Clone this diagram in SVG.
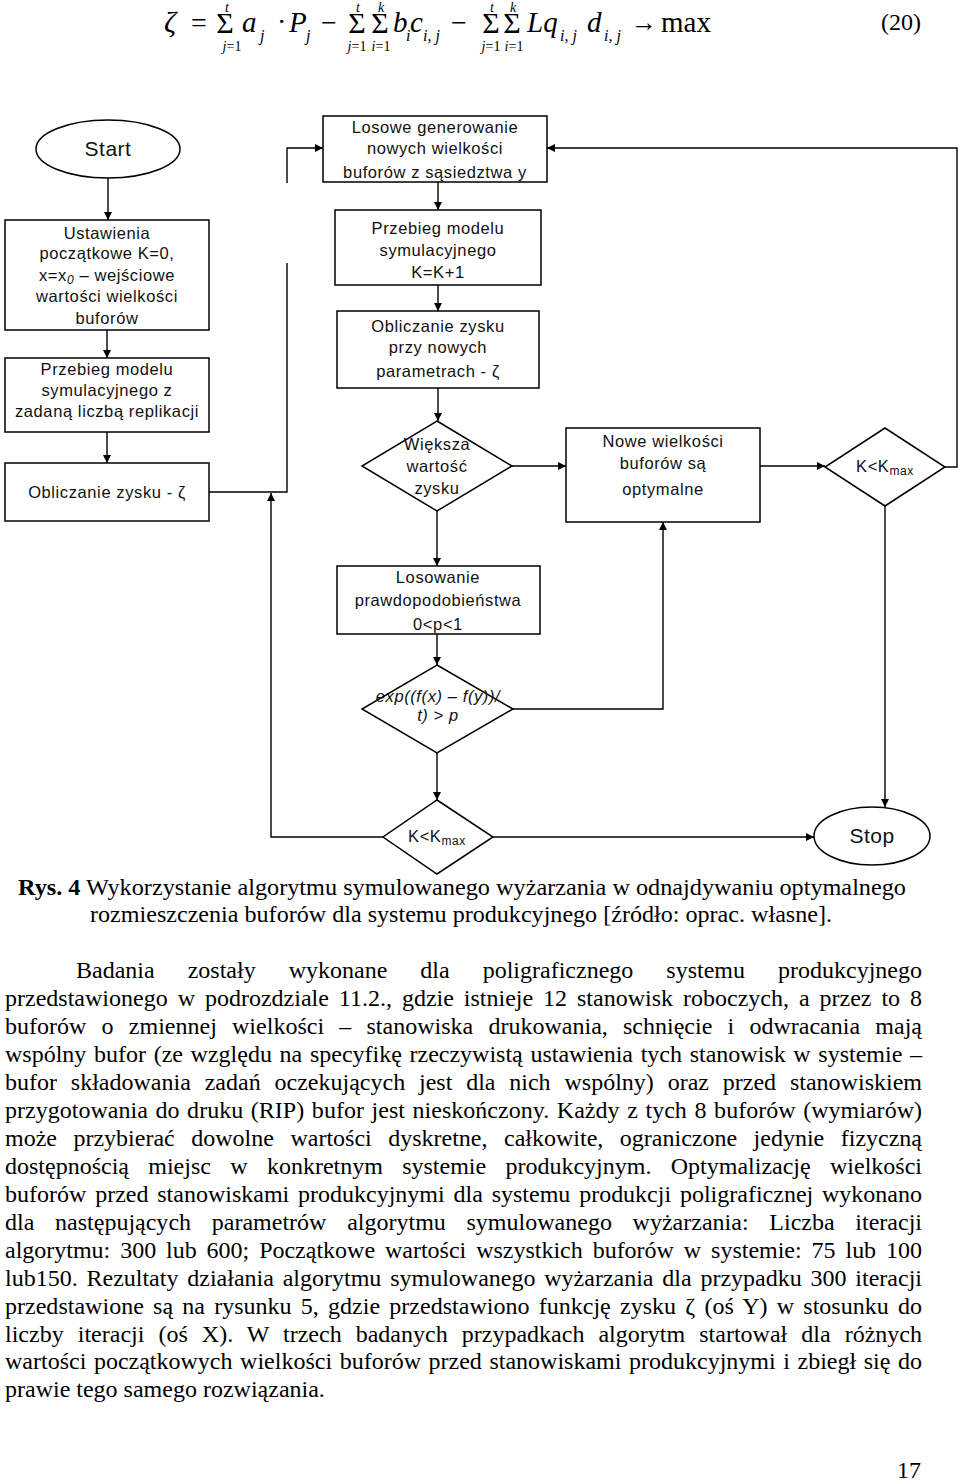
<svg xmlns="http://www.w3.org/2000/svg" width="960" height="1481" viewBox="0 0 960 1481">
<style>
.bx{fill:#fff;stroke:#000;stroke-width:1.5}
.ft{font-family:"Liberation Sans",Arial,sans-serif;font-size:16.5px;letter-spacing:0.6px;text-anchor:middle;fill:#111}
.big{font-size:21px;letter-spacing:0.5px}
.cn{fill:none;stroke:#000;stroke-width:1.4}
.ser{font-family:"Liberation Serif","Times New Roman",serif;fill:#000}
.it{font-style:italic}
.body{font-family:"Liberation Serif","Times New Roman",serif;font-size:24px;fill:#000}
</style>
<defs>
<marker id="ar" viewBox="0 0 10 10" refX="10" refY="5" markerWidth="10" markerHeight="8" markerUnits="userSpaceOnUse" orient="auto">
<path d="M0,0 L10,5 L0,10 z" fill="#000"/>
</marker>
</defs>
<rect width="960" height="1481" fill="#fff"/>

<g id="formula" class="ser">
<text x="164" y="32" font-size="30" class="it">ζ</text>
<text x="191" y="32" font-size="28">=</text>
<text x="225" y="33" font-size="30" text-anchor="middle">Σ</text>
<text x="227" y="12" font-size="14" class="it" text-anchor="middle">t</text>
<text x="232" y="51" font-size="14" text-anchor="middle"><tspan class="it">j</tspan>=1</text>
<text x="242" y="32" font-size="29" class="it">a</text>
<text x="260" y="41" font-size="16" class="it">j</text>
<text x="277" y="31" font-size="28">·</text>
<text x="289" y="32" font-size="29" class="it">P</text>
<text x="306" y="41" font-size="16" class="it">j</text>
<text x="321" y="32" font-size="28">−</text>
<text x="357" y="33" font-size="30" text-anchor="middle">Σ</text>
<text x="380" y="33" font-size="30" text-anchor="middle">Σ</text>
<text x="358" y="12" font-size="14" class="it" text-anchor="middle">t</text>
<text x="381" y="12" font-size="14" class="it" text-anchor="middle">k</text>
<text x="357" y="51" font-size="14" text-anchor="middle"><tspan class="it">j</tspan>=1</text>
<text x="381" y="51" font-size="14" text-anchor="middle"><tspan class="it">i</tspan>=1</text>
<text x="393" y="32" font-size="29" class="it">b</text>
<text x="406" y="41" font-size="16" class="it">i</text>
<text x="410" y="32" font-size="29" class="it">c</text>
<text x="423" y="41" font-size="16" class="it">i, j</text>
<text x="451" y="32" font-size="28">−</text>
<text x="491" y="33" font-size="30" text-anchor="middle">Σ</text>
<text x="512" y="33" font-size="30" text-anchor="middle">Σ</text>
<text x="492" y="12" font-size="14" class="it" text-anchor="middle">t</text>
<text x="513" y="12" font-size="14" class="it" text-anchor="middle">k</text>
<text x="491" y="51" font-size="14" text-anchor="middle"><tspan class="it">j</tspan>=1</text>
<text x="514" y="51" font-size="14" text-anchor="middle"><tspan class="it">i</tspan>=1</text>
<text x="527" y="32" font-size="29" class="it">Lq</text>
<text x="560" y="41" font-size="16" class="it">i, j</text>
<text x="587" y="32" font-size="29" class="it">d</text>
<text x="604" y="41" font-size="16" class="it">i, j</text>
<text x="631" y="31" font-size="26">→</text>
<text x="661" y="32" font-size="29">max</text>
<text x="881" y="30" font-size="24">(20)</text>
</g>

<g id="connectors">
<path class="cn" d="M108,178 V220" marker-end="url(#ar)"/>
<path class="cn" d="M107,330 V358" marker-end="url(#ar)"/>
<path class="cn" d="M107,432 V463" marker-end="url(#ar)"/>
<path class="cn" d="M209,492 H287 V263"/>
<path class="cn" d="M287,183 V148 H323" marker-end="url(#ar)"/>
<path class="cn" d="M438,182 V210" marker-end="url(#ar)"/>
<path class="cn" d="M438,285 V311" marker-end="url(#ar)"/>
<path class="cn" d="M438,388 V421" marker-end="url(#ar)"/>
<path class="cn" d="M512,466 H566" marker-end="url(#ar)"/>
<path class="cn" d="M760,466 H825" marker-end="url(#ar)"/>
<path class="cn" d="M945,467 H957 V148 H547" marker-end="url(#ar)"/>
<path class="cn" d="M885,506 V807" marker-end="url(#ar)"/>
<path class="cn" d="M437,511 V566" marker-end="url(#ar)"/>
<path class="cn" d="M437,634 V665" marker-end="url(#ar)"/>
<path class="cn" d="M513,709 H663 V522" marker-end="url(#ar)"/>
<path class="cn" d="M437,753 V800" marker-end="url(#ar)"/>
<path class="cn" d="M493,837 H814" marker-end="url(#ar)"/>
<path class="cn" d="M383,837 H271 V493" marker-end="url(#ar)"/>
</g>

<g id="start">
<ellipse class="bx" cx="108" cy="149" rx="72" ry="29"/>
<text class="ft big" x="108" y="156">Start</text>
</g>

<g id="ustawienia">
<rect class="bx" x="5" y="220" width="204" height="110"/>
<text class="ft" x="107" y="239">Ustawienia</text>
<text class="ft" x="107" y="259">początkowe K=0,</text>
<text class="ft" x="107" y="281">x=x<tspan font-size="12" dy="3" font-style="italic">0</tspan><tspan dy="-3"> – wejściowe</tspan></text>
<text class="ft" x="107" y="302">wartości wielkości</text>
<text class="ft" x="107" y="324">buforów</text>
</g>

<g id="przebieg1">
<rect class="bx" x="5" y="358" width="204" height="74"/>
<text class="ft" x="107" y="375">Przebieg modelu</text>
<text class="ft" x="107" y="396">symulacyjnego z</text>
<text class="ft" x="107" y="417">zadaną liczbą replikacji</text>
</g>

<g id="obliczanie1">
<rect class="bx" x="5" y="463" width="204" height="58"/>
<text class="ft" x="107" y="498">Obliczanie zysku - ζ</text>
</g>

<g id="losowe">
<rect class="bx" x="323" y="116" width="224" height="66"/>
<text class="ft" x="435" y="133">Losowe generowanie</text>
<text class="ft" x="435" y="154">nowych wielkości</text>
<text class="ft" x="435" y="178">buforów z sąsiedztwa y</text>
</g>

<g id="przebieg2">
<rect class="bx" x="335" y="210" width="206" height="75"/>
<text class="ft" x="438" y="234">Przebieg modelu</text>
<text class="ft" x="438" y="256">symulacyjnego</text>
<text class="ft" x="438" y="278">K=K+1</text>
</g>

<g id="obliczanie2">
<rect class="bx" x="337" y="311" width="202" height="77"/>
<text class="ft" x="438" y="332">Obliczanie zysku</text>
<text class="ft" x="438" y="353">przy nowych</text>
<text class="ft" x="438" y="377">parametrach - ζ</text>
</g>

<g id="wieksza">
<polygon class="bx" points="437,421 512,466 437,511 362,466"/>
<text class="ft" x="437" y="450">Większa</text>
<text class="ft" x="437" y="472">wartość</text>
<text class="ft" x="437" y="494">zysku</text>
</g>

<g id="nowe">
<rect class="bx" x="566" y="428" width="194" height="94"/>
<text class="ft" x="663" y="447">Nowe wielkości</text>
<text class="ft" x="663" y="469">buforów są</text>
<text class="ft" x="663" y="495">optymalne</text>
</g>

<g id="kmax1">
<polygon class="bx" points="885,428 945,467 885,506 825,467"/>
<text class="ft" x="885" y="472">K&lt;K<tspan font-size="12" dy="3">max</tspan></text>
</g>

<g id="losowanie">
<rect class="bx" x="337" y="566" width="203" height="68"/>
<text class="ft" x="438" y="583">Losowanie</text>
<text class="ft" x="438" y="606">prawdopodobieństwa</text>
<text class="ft" x="438" y="630">0&lt;p&lt;1</text>
</g>

<g id="exp">
<polygon class="bx" points="437,665 513,709 437,753 362,709"/>
<text class="ft" x="438" y="702" font-size="12.5" font-style="italic" letter-spacing="0">exp((f(x) – f(y))/</text>
<text class="ft" x="438" y="721" font-size="12.5" font-style="italic" letter-spacing="0">t) &gt; p</text>
</g>

<g id="kmax2">
<polygon class="bx" points="437,800 493,837 437,874 383,837"/>
<text class="ft" x="437" y="842">K&lt;K<tspan font-size="12" dy="3">max</tspan></text>
</g>

<g id="stop">
<ellipse class="bx" cx="872" cy="836" rx="58" ry="29"/>
<text class="ft big" x="872" y="843">Stop</text>
</g>

<g id="caption" class="body">
<text x="18" y="895" textLength="888" lengthAdjust="spacingAndGlyphs"><tspan font-weight="bold">Rys. 4</tspan> Wykorzystanie algorytmu symulowanego wyżarzania w odnajdywaniu optymalnego</text>
<text x="90" y="922" textLength="742" lengthAdjust="spacingAndGlyphs">rozmieszczenia buforów dla systemu produkcyjnego [źródło: oprac. własne].</text>
</g>

<g id="paragraph" class="body">
<text x="76" y="978" word-spacing="27" textLength="846" lengthAdjust="spacing">Badania zostały wykonane dla poligraficznego systemu produkcyjnego</text>
<text x="5" y="1006" word-spacing="3.9" textLength="917" lengthAdjust="spacing">przedstawionego w podrozdziale 11.2., gdzie istnieje 12 stanowisk roboczych, a przez to 8</text>
<text x="5" y="1034" word-spacing="9.2" textLength="917" lengthAdjust="spacing">buforów o zmiennej wielkości – stanowiska drukowania, schnięcie i odwracania mają</text>
<text x="5" y="1062" word-spacing="1.7" textLength="917" lengthAdjust="spacing">wspólny bufor (ze względu na specyfikę rzeczywistą ustawienia tych stanowisk w systemie –</text>
<text x="5" y="1090" word-spacing="7.8" textLength="917" lengthAdjust="spacing">bufor składowania zadań oczekujących jest dla nich wspólny) oraz przed stanowiskiem</text>
<text x="5" y="1118" word-spacing="1.6" textLength="917" lengthAdjust="spacing">przygotowania do druku (RIP) bufor jest nieskończony. Każdy z tych 8 buforów (wymiarów)</text>
<text x="5" y="1146" word-spacing="10.5" textLength="917" lengthAdjust="spacing">może przybierać dowolne wartości dyskretne, całkowite, ograniczone jedynie fizyczną</text>
<text x="5" y="1174" word-spacing="13.3" textLength="917" lengthAdjust="spacing">dostępnością miejsc w konkretnym systemie produkcyjnym. Optymalizację wielkości</text>
<text x="5" y="1202" word-spacing="2.8" textLength="917" lengthAdjust="spacing">buforów przed stanowiskami produkcyjnymi dla systemu produkcji poligraficznej wykonano</text>
<text x="5" y="1230" word-spacing="14.7" textLength="917" lengthAdjust="spacing">dla następujących parametrów algorytmu symulowanego wyżarzania: Liczba iteracji</text>
<text x="5" y="1258" word-spacing="3.9" textLength="917" lengthAdjust="spacing">algorytmu: 300 lub 600; Początkowe wartości wszystkich buforów w systemie: 75 lub 100</text>
<text x="5" y="1286" word-spacing="2.8" textLength="917" lengthAdjust="spacing">lub150. Rezultaty działania algorytmu symulowanego wyżarzania dla przypadku 300 iteracji</text>
<text x="5" y="1314" word-spacing="3.2" textLength="917" lengthAdjust="spacing">przedstawione są na rysunku 5, gdzie przedstawiono funkcję zysku ζ (oś Y) w stosunku do</text>
<text x="5" y="1342" word-spacing="8" textLength="917" lengthAdjust="spacing">liczby iteracji (oś X). W trzech badanych przypadkach algorytm startował dla różnych</text>
<text x="5" y="1369" word-spacing="1.6" textLength="917" lengthAdjust="spacing">wartości początkowych wielkości buforów przed stanowiskami produkcyjnymi i zbiegł się do</text>
<text x="5" y="1397">prawie tego samego rozwiązania.</text>
</g>

<g id="pagenum" class="body">
<text x="897" y="1478">17</text>
</g>
</svg>
